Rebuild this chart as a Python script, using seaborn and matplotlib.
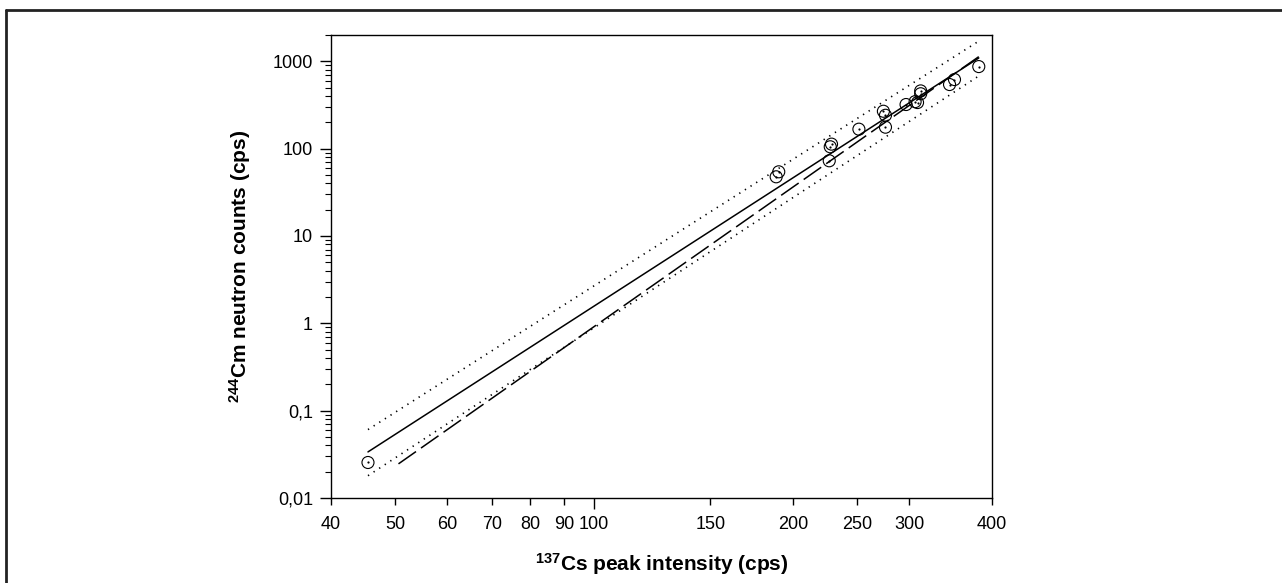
import matplotlib
matplotlib.use("Agg")
import matplotlib.pyplot as plt
import matplotlib.ticker as mticker
from matplotlib.lines import Line2D
import seaborn as sns
import pandas as pd
import numpy as np

# ---- data ----
cs_intensity = [45.5, 188.6, 190.3, 226.9, 227.7, 228.7, 251.6, 274, 276, 276,
                296.5, 306, 308.6, 312, 312, 345, 351, 382]
cm_counts = [0.0255, 47.6, 54.3, 72.6, 105, 112.6, 167, 268, 241, 176,
             320, 345, 337, 458, 425, 542, 618, 870]

fit_x = [45.5, 382]
fit_y = [0.0337, 1091]
upper_x = [45.5, 380]
upper_y = [0.0607, 1660]
lower_x = [45.5, 380]
lower_y = [0.018, 662]
alt_x = [50.6, 382]
alt_y = [0.0246, 1130]

x_ticks = [40, 50, 60, 70, 80, 90, 100, 150, 200, 250, 300, 400]
y_ticks = [0.01, 0.1, 1, 10, 100, 1000]
y_tick_labels = ["0,01", "0,1", "1", "10", "100", "1000"]

sns.set_style("white")
plt.rcParams['font.family'] = ['Liberation Sans', 'DejaVu Sans']
plt.rcParams['mathtext.default'] = 'regular'

fig = plt.figure(figsize=(12.82, 5.83), dpi=100)
ax = fig.add_axes([331 / 1282, 1 - 498 / 583, (992 - 331) / 1282, (498 - 35) / 583])

ax.set_xscale('log')
ax.set_yscale('log')

df = pd.DataFrame({'x': cs_intensity, 'y': cm_counts})

sns.lineplot(x=upper_x, y=upper_y, ax=ax, color='black', lw=1.2,
             linestyle=(0, (0.8, 3.2)), estimator=None, sort=False)
sns.lineplot(x=lower_x, y=lower_y, ax=ax, color='black', lw=1.2,
             linestyle=(0, (0.8, 3.2)), estimator=None, sort=False)
sns.lineplot(x=alt_x, y=alt_y, ax=ax, color='black', lw=1.1,
             linestyle=(0, (14, 4)), estimator=None, sort=False)
sns.lineplot(x=fit_x, y=fit_y, ax=ax, color='black', lw=1.1,
             estimator=None, sort=False)

sns.scatterplot(data=df, x='x', y='y', ax=ax, marker='o', s=75,
                facecolor='none', edgecolor='black', linewidth=0.8, zorder=5)
sns.scatterplot(data=df, x='x', y='y', ax=ax, marker='o', s=2.5,
                color='black', edgecolor='black', linewidth=0, zorder=6)

ax.set_xlim(40, 400)
ax.set_ylim(0.01, 2000)

# x ticks: 100 major, others minor with labels
ax.xaxis.set_major_locator(mticker.FixedLocator([100]))
ax.xaxis.set_major_formatter(mticker.FixedFormatter(["100"]))
minor_x = [t for t in x_ticks if t != 100]
ax.xaxis.set_minor_locator(mticker.FixedLocator(minor_x))
ax.xaxis.set_minor_formatter(mticker.FixedFormatter([str(t) for t in minor_x]))

ax.yaxis.set_major_locator(mticker.FixedLocator(y_ticks))
ax.yaxis.set_major_formatter(mticker.FixedFormatter(y_tick_labels))
ax.yaxis.set_minor_locator(mticker.LogLocator(base=10, subs=np.arange(2, 10), numticks=20))
ax.yaxis.set_minor_formatter(mticker.NullFormatter())

ax.tick_params(axis='both', which='major', direction='out', length=8, width=1,
               color='black', labelsize=13, labelcolor='black', pad=5)
ax.tick_params(axis='x', which='minor', direction='out', length=5, width=1,
               color='black', labelsize=13, labelcolor='black', pad=8)
ax.tick_params(axis='y', which='minor', direction='out', length=4, width=0.8,
               color='black')
ax.tick_params(axis='x', which='major', pad=5)
ax.tick_params(bottom=True, left=True, which='both')

for sp in ax.spines.values():
    sp.set_visible(True)
    sp.set_color('black')
    sp.set_linewidth(1.0)

ax.set_xlabel('$^{137}$Cs peak intensity (cps)', fontsize=15, fontweight='bold',
              labelpad=13, color='black')
ax.set_ylabel('$^{244}$Cm neutron counts (cps)', fontsize=15, fontweight='bold',
              labelpad=14, color='black')

# figure frame (left and top)
fig.add_artist(Line2D([6 / 1282, 6 / 1282], [0, 1 - 10 / 583], color='#222222',
                      lw=2, transform=fig.transFigure))
fig.add_artist(Line2D([6 / 1282, 1], [1 - 10 / 583, 1 - 10 / 583], color='#222222',
                      lw=2, transform=fig.transFigure))

fig.savefig('out.png', dpi=100)
